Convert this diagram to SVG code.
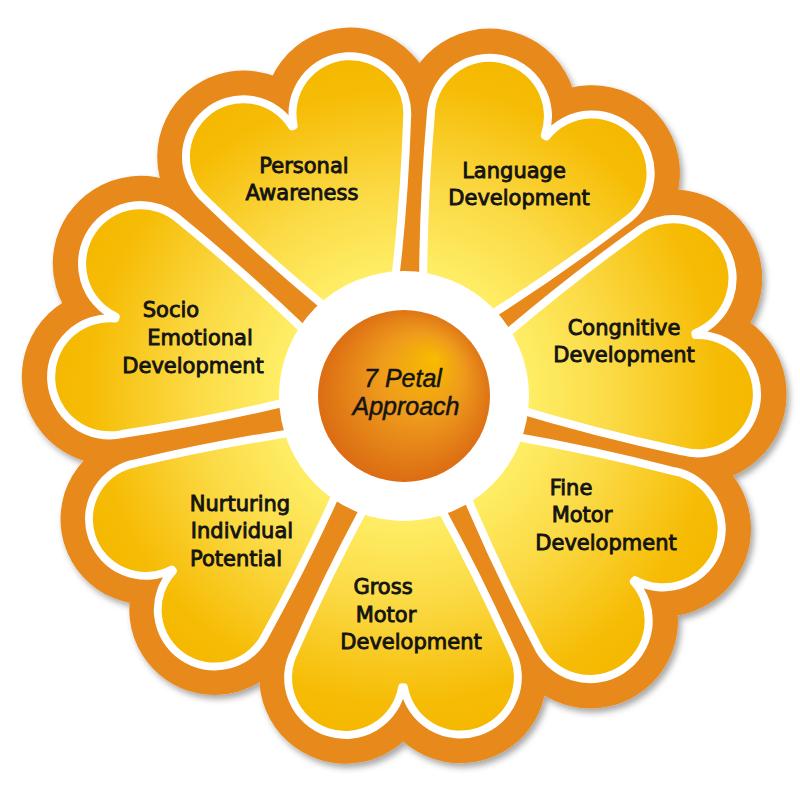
<svg xmlns="http://www.w3.org/2000/svg" xmlns:xlink="http://www.w3.org/1999/xlink" width="800" height="800" viewBox="0 0 800 800">
  <defs>
    <path id="heart" d="M 45 0 Q 150 62 257.4 109.5 A 58 58 0 1 0 294.1 0.9 L 294.1 -0.9 A 58 58 0 1 0 257.4 -109.5 Q 150 -62 45 0 Z"/>
    <radialGradient id="petalGrad" gradientUnits="userSpaceOnUse" cx="0" cy="0" r="345">
      <stop offset="0.3" stop-color="#FFF36E"/>
      <stop offset="0.6" stop-color="#FBDA45"/>
      <stop offset="0.9" stop-color="#F6BC05"/>
      <stop offset="1" stop-color="#F5B800"/>
    </radialGradient>
    <radialGradient id="centerGrad" cx="0.5" cy="0.5" r="0.55" fx="0.68" fy="0.28">
      <stop offset="0" stop-color="#F8BC00"/>
      <stop offset="0.45" stop-color="#EE9A1C"/>
      <stop offset="1" stop-color="#D96612"/>
    </radialGradient>
    <filter id="shadow" x="-10%" y="-10%" width="125%" height="125%">
      <feDropShadow dx="3" dy="4" stdDeviation="3" flood-color="#000" flood-opacity="0.35"/>
    </filter>
  </defs>
  <style>
    .bg { fill: #E8891E; stroke: #E8891E; stroke-width: 58; stroke-linejoin: round; }
    .petal { fill: url(#petalGrad); stroke: #FFFFFF; stroke-width: 8; stroke-linejoin: round; }
    .lbl { font-family: "DejaVu Sans", Verdana, sans-serif; font-size: 21px; fill: #141414; stroke: #141414; stroke-width: 0.9; text-anchor: middle; }
    .ctr { font-family: "Liberation Sans", Arial, sans-serif; font-size: 25px; font-style: italic; fill: #141414; stroke: #141414; stroke-width: 0.5; text-anchor: middle; }
  </style>
  <rect width="800" height="800" fill="#FFFFFF"/>
  <g id="background" filter="url(#shadow)">
    <use xlink:href="#heart" href="#heart" class="bg" transform="translate(402 396) rotate(-112) scale(0.99)"/>
    <use xlink:href="#heart" href="#heart" class="bg" transform="translate(402 396) rotate(-61.1) scale(1.01)"/>
    <use xlink:href="#heart" href="#heart" class="bg" transform="translate(402 396) rotate(-11.9) scale(1.02)"/>
    <use xlink:href="#heart" href="#heart" class="bg" transform="translate(402 396) rotate(38.5) scale(1.01)"/>
    <use xlink:href="#heart" href="#heart" class="bg" transform="translate(402 396) rotate(89.8) scale(0.99)"/>
    <use xlink:href="#heart" href="#heart" class="bg" transform="translate(402 396) rotate(142.8) scale(0.98)"/>
    <use xlink:href="#heart" href="#heart" class="bg" transform="translate(402 396) rotate(195.3) scale(1.01)"/>
  </g>
  <g id="petal-personal">
    <use xlink:href="#heart" href="#heart" class="petal" transform="translate(402 396) rotate(-112) scale(0.99)"/>
    <text class="lbl" x="304" y="173">Personal</text>
    <text class="lbl" x="302" y="200">Awareness</text>
  </g>
  <g id="petal-language">
    <use xlink:href="#heart" href="#heart" class="petal" transform="translate(402 396) rotate(-61.1) scale(1.01)"/>
    <text class="lbl" x="514" y="178">Language</text>
    <text class="lbl" x="519" y="205">Development</text>
  </g>
  <g id="petal-cognitive">
    <use xlink:href="#heart" href="#heart" class="petal" transform="translate(402 396) rotate(-11.9) scale(1.02)"/>
    <text class="lbl" x="624" y="335">Congnitive</text>
    <text class="lbl" x="624" y="362">Development</text>
  </g>
  <g id="petal-fine-motor">
    <use xlink:href="#heart" href="#heart" class="petal" transform="translate(402 396) rotate(38.5) scale(1.01)"/>
    <text class="lbl" x="571" y="495">Fine</text>
    <text class="lbl" x="582" y="522">Motor</text>
    <text class="lbl" x="606" y="550">Development</text>
  </g>
  <g id="petal-gross-motor">
    <use xlink:href="#heart" href="#heart" class="petal" transform="translate(402 396) rotate(89.8) scale(0.99)"/>
    <text class="lbl" x="383" y="594">Gross</text>
    <text class="lbl" x="386" y="622">Motor</text>
    <text class="lbl" x="411" y="649">Development</text>
  </g>
  <g id="petal-nurturing">
    <use xlink:href="#heart" href="#heart" class="petal" transform="translate(402 396) rotate(142.8) scale(0.98)"/>
    <text class="lbl" x="240" y="511">Nurturing</text>
    <text class="lbl" x="242" y="538">Individual</text>
    <text class="lbl" x="236" y="566">Potential</text>
  </g>
  <g id="petal-socio">
    <use xlink:href="#heart" href="#heart" class="petal" transform="translate(402 396) rotate(195.3) scale(1.01)"/>
    <text class="lbl" x="171" y="317">Socio</text>
    <text class="lbl" x="200" y="345">Emotional</text>
    <text class="lbl" x="193" y="373">Development</text>
  </g>
  <g id="center">
    <circle cx="404" cy="396" r="125" fill="#FFFFFF"/>
    <circle cx="404" cy="396" r="86" fill="url(#centerGrad)"/>
    <text class="ctr" x="403" y="387">7 Petal</text>
    <text class="ctr" x="406" y="415">Approach</text>
  </g>
</svg>
